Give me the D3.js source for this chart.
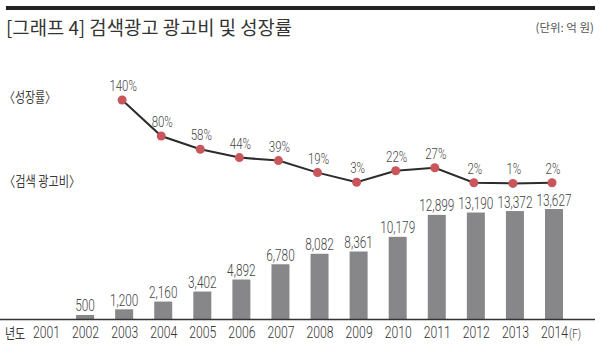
<!DOCTYPE html>
<html>
<head>
<meta charset="utf-8">
<script src="https://cdn.jsdelivr.net/npm/d3@7"></script>
<style>
  body { margin: 0; background: #fff; }
  .num { font-family: "Roboto", "Liberation Sans", sans-serif; font-weight: 300; fill: #444; }
  .kr { font-family: "Noto Sans CJK KR", sans-serif; fill: #3a3a3a; }
</style>
</head>
<body>
<svg id="chart" width="600" height="345"></svg>
<script>
(function (d3) {
    'use strict';

    var years = ['2001', '2002', '2003', '2004', '2005', '2006', '2007',
                 '2008', '2009', '2010', '2011', '2012', '2013', '2014'];
    var spend = [null, 500, 1200, 2160, 3402, 4892, 6780,
                 8082, 8361, 10179, 12899, 13190, 13372, 13627];
    var growth = [null, null, 140, 80, 58, 44, 39,
                  19, 3, 22, 27, 2, 1, 2];

    var SQ = 0.74; // horizontal squeeze for the condensed number font

    var svg = d3.select('#chart');

    var x = d3.scalePoint().domain(years).range([46, 554]);
    var yBar = d3.scaleLinear().domain([0, 13627]).range([319, 209]);
    var yLine = d3.scaleLinear().domain([0, 140]).range([184, 100]);

    function squeeze(sel, fx, fy, k) {
        sel.attr('transform', function (d, i) {
            return 'translate(' + fx(d, i) + ',' + fy(d, i) + ') scale(' + (k || SQ) + ',1)';
        });
    }
    function c(v) { return function () { return v; }; }

    // top rule + titles
    svg.append('rect').attr('x', 6).attr('y', 6).attr('width', 589).attr('height', 4).attr('fill', '#222');
    svg.append('text').attr('class', 'kr').attr('x', 6).attr('y', 35)
        .style('font-size', '18.8px').style('fill', '#333')
        .text('[그래프 4] 검색광고 광고비 및 성장률');
    svg.append('text').attr('class', 'kr').attr('x', 594).attr('y', 32)
        .attr('text-anchor', 'end').style('font-size', '11.5px').style('fill', '#555')
        .text('(단위: 억 원)');
    svg.append('text').attr('class', 'kr')
        .style('font-size', '14px').text('〈성장률〉')
        .call(squeeze, c(4), c(102), 0.78);
    svg.append('text').attr('class', 'kr')
        .style('font-size', '14px').text('〈검색 광고비〉')
        .call(squeeze, c(4), c(186), 0.8);

    var barData = years.map(function (d, i) { return { year: d, v: spend[i] }; })
        .filter(function (d) { return d.v !== null; });
    var lineData = years.map(function (d, i) { return { year: d, v: growth[i] }; })
        .filter(function (d) { return d.v !== null; });

    svg.selectAll('rect.bar').data(barData).enter()
      .append('rect')
        .attr('class', 'bar')
        .attr('x', function (d) { return x(d.year) - 9; })
        .attr('width', 18)
        .attr('y', function (d) { return yBar(d.v); })
        .attr('height', function (d) { return yBar(0) - yBar(d.v); })
        .attr('fill', '#87878a');

    svg.selectAll('text.barlab').data(barData).enter()
      .append('text')
        .attr('class', 'num barlab')
        .attr('text-anchor', 'middle')
        .style('font-size', '16px')
        .text(function (d) { return d3.format(',')(d.v); })
        .call(squeeze, function (d) { return x(d.year); },
              function (d) { return yBar(d.v) - 3.5; });

    // baseline axis
    svg.append('line').attr('x1', 0).attr('x2', 595).attr('y1', 319.5).attr('y2', 319.5)
        .attr('stroke', '#333').attr('stroke-width', 1.3);

    var axis = svg.append('g').attr('transform', 'translate(0,320)')
        .call(d3.axisBottom(x).tickSize(0).tickPadding(0));
    axis.select('.domain').remove();
    axis.selectAll('text')
        .attr('class', 'num')
        .attr('dy', 0)
        .attr('y', 0)
        .attr('transform', 'translate(0,18) scale(' + SQ + ',1)')
        .style('font-size', '16.5px')
        .style('fill', '#333');

    svg.append('text').attr('class', 'kr')
        .style('font-size', '14.5px').text('년도')
        .call(squeeze, c(5), c(338.5), 0.76);
    svg.append('text').attr('class', 'num')
        .style('font-size', '13.5px').style('fill', '#333').text('(F)')
        .call(squeeze, c(569), c(337.5));

    var line = d3.line()
        .x(function (d) { return x(d.year) - 2; })
        .y(function (d) { return yLine(d.v); });

    svg.append('path').datum(lineData)
        .attr('d', line)
        .attr('fill', 'none')
        .attr('stroke', '#2b2b2b')
        .attr('stroke-width', 2);

    svg.selectAll('circle.pt').data(lineData).enter()
      .append('circle')
        .attr('class', 'pt')
        .attr('cx', function (d) { return x(d.year) - 2; })
        .attr('cy', function (d) { return yLine(d.v); })
        .attr('r', 4.5)
        .attr('fill', '#c9565b');

    svg.selectAll('text.pct').data(lineData).enter()
      .append('text')
        .attr('class', 'num pct')
        .attr('text-anchor', 'middle')
        .style('font-size', '15.5px')
        .text(function (d) { return d.v + '%'; })
        .call(squeeze, function (d) { return x(d.year) - 1; },
              function (d) { return yLine(d.v) - 9; });

}(window.d3));
</script>
</body>
</html>
